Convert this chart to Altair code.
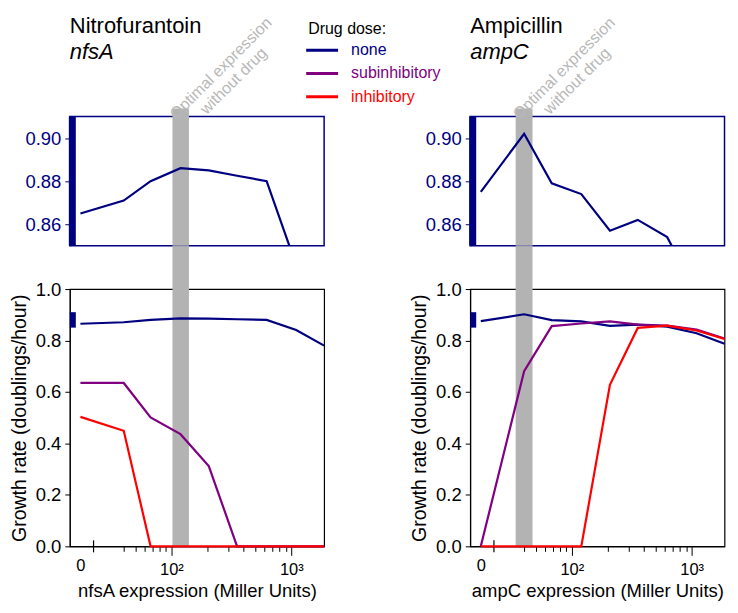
import altair as alt
import pandas as pd

FONT = "Liberation Sans"

# ---------------- data ----------------
DOSES = ["none", "subinhibitory", "inhibitory"]
DOSE_COLORS = ["#000080", "#800080", "#ff0000"]

NFSA_EXPR = [0, 40, 67, 119, 205, 353, 623, 1099, 1880]
NFSA_NONE = [0.865, 0.871, 0.880, 0.886, 0.885, 0.8825, 0.880, 0.841, 0.780]
NFSA_SUB = [0.635, 0.635, 0.501, 0.436, 0.312, 0.0, 0.0, 0.0, 0.0]
NFSA_INH = [0.503, 0.449, 0.0, 0.0, 0.0, 0.0, 0.0, 0.0, 0.0]
NFSA_OPTIMAL = [102, 140]

AMPC_EXPR = [0, 40, 68, 120, 208, 355, 625, 1099, 1880]
AMPC_NONE = [0.875, 0.902, 0.879, 0.874, 0.857, 0.862, 0.854, 0.828, 0.787]
AMPC_SUB = [0.0, 0.681, 0.856, 0.866, 0.874, 0.862, 0.858, 0.842, 0.808]
AMPC_INH = [0.0, 0.0, 0.0, 0.0, 0.628, 0.849, 0.858, 0.839, 0.806]
AMPC_OPTIMAL = [34, 47]

ZERO_AT = 17.4          # where zero expression is drawn on the log axis
BREAK_AT = 22.4         # axis-break tick
X_DOMAIN = [14.2, 1880]
MAJOR_TICKS = [100, 1000]
MINOR_TICKS = [40, 50, 60, 70, 80, 90, 200, 300, 400, 500, 600, 700, 800, 900]
MAIN_Y_DOMAIN = [0, 1.0]
MAIN_Y_TICKS = [0.0, 0.2, 0.4, 0.6, 0.8, 1.0]
INSET_RANGE = [0.85, 0.91]
INSET_Y_TICKS = [0.86, 0.88, 0.90]

# ---------------- layout / style ----------------
W = 255
H_MAIN = 258
H_INSET = 129.6
GAP = 43
COL_GAP = 146.5
NAVY = "#000080"
BAND = "#b3b3b3"
ANNOT = "#b8b8b8"


def long_frame(expr, none, sub, inh):
    rows = []
    for dose, vals in zip(DOSES, [none, sub, inh]):
        for e, v in zip(expr, vals):
            rows.append({"pos": ZERO_AT if e == 0 else e, "rate": v, "dose": dose})
    return pd.DataFrame(rows)


xscale = alt.Scale(type="log", domain=X_DOMAIN, nice=False)

label_expr = ("datum.value < 20 ? '0' : abs(datum.value - 100) < 1 ? '10\u00b2' : "
              "abs(datum.value - 1000) < 1 ? '10\u00b3' : ''")


def x_axis(title):
    return alt.Axis(
        values=[ZERO_AT] + MINOR_TICKS + MAJOR_TICKS,
        labelExpr=label_expr,
        title=title,
        grid=False,
        tickSize={"condition": {"test": "abs(datum.value - 100) < 1 || abs(datum.value - 1000) < 1",
                                "value": 9}, "value": 5},
        tickColor={"condition": {"test": "datum.value < 20", "value": "transparent"},
                   "value": "black"},
        labelFontSize=16.5, titleFontSize=18.5, labelPadding=6, titlePadding=4,
        labelFlush=False, labelOverlap=False, titleFontWeight="normal",
        domainColor="black", labelColor="black", titleColor="black",
    )


main_y_axis = alt.Axis(values=MAIN_Y_TICKS, format=".1f", title="Growth rate (doublings/hour)",
                       grid=False, tickSize=5, labelFontSize=18.5, titleFontSize=19.5,
                       labelPadding=4, titlePadding=6, titleFontWeight="normal",
                       domainColor="black", tickColor="black", labelColor="black",
                       titleColor="black")

inset_y_axis = alt.Axis(values=INSET_Y_TICKS, format=".2f", title=None, grid=False,
                        tickSize=5, labelFontSize=18.5, labelPadding=4,
                        domainColor=NAVY, tickColor=NAVY, labelColor=NAVY)


def main_panel(df, optimal, xtitle):
    ys = alt.Scale(domain=MAIN_Y_DOMAIN, nice=False)
    xa = x_axis(xtitle)
    band = alt.Chart(pd.DataFrame({"lo": [optimal[0]], "hi": [optimal[1]]})).mark_rect(
        color=BAND).encode(
        x=alt.X("lo:Q", scale=xscale, axis=xa), x2="hi:Q",
        y=alt.value(-GAP), y2=alt.value(H_MAIN))
    marker = alt.Chart(pd.DataFrame({"lo": [INSET_RANGE[0]], "hi": [INSET_RANGE[1]]})).mark_rect(
        color=NAVY).encode(
        x=alt.value(0), x2=alt.value(6),
        y=alt.Y("lo:Q", scale=ys, axis=main_y_axis), y2="hi:Q")
    brk = alt.Chart(pd.DataFrame({"pos": [BREAK_AT]})).mark_rule(color="black", strokeWidth=1.2).encode(
        x=alt.X("pos:Q", scale=xscale, axis=xa), y=alt.value(H_MAIN - 6), y2=alt.value(H_MAIN + 6))
    lines = []
    for dose, color in zip(DOSES, DOSE_COLORS):
        lines.append(alt.Chart(df[df.dose == dose]).mark_line(color=color, strokeWidth=2.2).encode(
            x=alt.X("pos:Q", scale=xscale, axis=xa),
            y=alt.Y("rate:Q", scale=ys, axis=main_y_axis)))
    return alt.layer(band, marker, brk, *lines).properties(
        width=W, height=H_MAIN, view=alt.ViewBackground(stroke="black", strokeWidth=1.2))


def inset_panel(df, optimal, drug, gene, legend=False):
    ys = alt.Scale(domain=INSET_RANGE, nice=False)
    band_df = pd.DataFrame({"lo": [optimal[0]], "hi": [optimal[1]],
                            "mid": [(optimal[0] * optimal[1]) ** 0.5]})
    band = alt.Chart(band_df).mark_rect(color=BAND).encode(
        x=alt.X("lo:Q", scale=xscale, axis=None), x2="hi:Q",
        y=alt.value(-8), y2=alt.value(H_INSET))
    annot = alt.Chart(band_df).mark_text(
        text=["Optimal expression", "without drug"], angle=315, align="center",
        baseline="middle", dx=57, dy=0, fontSize=16, font=FONT, color=ANNOT,
        lineHeight=18).encode(
        x=alt.X("mid:Q", scale=xscale, axis=None), y=alt.value(-8))
    bar = alt.Chart(pd.DataFrame({"lo": [INSET_RANGE[0]], "hi": [INSET_RANGE[1]]})).mark_rect(
        color=NAVY).encode(
        x=alt.value(-1), x2=alt.value(6),
        y=alt.Y("lo:Q", scale=ys, axis=inset_y_axis), y2="hi:Q")
    line = alt.Chart(df[df.dose == "none"]).mark_line(color=NAVY, strokeWidth=2.2, clip=True).encode(
        x=alt.X("pos:Q", scale=xscale, axis=None),
        y=alt.Y("rate:Q", scale=ys, axis=inset_y_axis))
    heading = pd.DataFrame({"drug": [drug], "gene": [gene]})
    t1 = alt.Chart(heading).mark_text(align="left", baseline="alphabetic", fontSize=22,
                                      font=FONT, color="black").encode(
        text="drug:N", x=alt.value(0), y=alt.value(-84))
    t2 = alt.Chart(heading).mark_text(align="left", baseline="alphabetic", fontSize=22,
                                      font=FONT, fontStyle="italic", color="black").encode(
        text="gene:N", x=alt.value(0), y=alt.value(-58))
    layers = [band, annot, bar, line, t1, t2]
    if legend:
        layers.append(alt.Chart(pd.DataFrame({"t": ["Drug dose:"]})).mark_text(
            align="left", baseline="alphabetic", fontSize=16, font=FONT, color="black").encode(
            text="t:N", x=alt.value(239), y=alt.value(-83)))
        for i, (dose, color) in enumerate(zip(DOSES, DOSE_COLORS)):
            yy = -66.5 + 23.3 * i
            ldf = pd.DataFrame({"t": [dose]})
            layers.append(alt.Chart(ldf).mark_rule(color=color, strokeWidth=3).encode(
                x=alt.value(237), x2=alt.value(269), y=alt.value(yy)))
            layers.append(alt.Chart(ldf).mark_text(
                align="left", baseline="middle", fontSize=16, font=FONT, color=color).encode(
                text="t:N", x=alt.value(282), y=alt.value(yy)))
    return alt.layer(*layers).properties(
        width=W, height=H_INSET,
        view=alt.ViewBackground(stroke=NAVY, strokeWidth=1.5))


nfsa_df = long_frame(NFSA_EXPR, NFSA_NONE, NFSA_SUB, NFSA_INH)
ampc_df = long_frame(AMPC_EXPR, AMPC_NONE, AMPC_SUB, AMPC_INH)

chart = alt.concat(
    inset_panel(nfsa_df, NFSA_OPTIMAL, "Nitrofurantoin", "nfsA", legend=True),
    inset_panel(ampc_df, AMPC_OPTIMAL, "Ampicillin", "ampC"),
    main_panel(nfsa_df, NFSA_OPTIMAL, "nfsA expression (Miller Units)"),
    main_panel(ampc_df, AMPC_OPTIMAL, "ampC expression (Miller Units)"),
    columns=2, spacing={"row": GAP, "column": COL_GAP}, bounds="flush",
).properties(
    padding={"left": 0, "top": 4, "right": 0, "bottom": 0}
).configure(font=FONT).configure_axis(labelFont=FONT, titleFont=FONT)

chart.save("out.html", embed_options={"renderer": "svg", "actions": False})
